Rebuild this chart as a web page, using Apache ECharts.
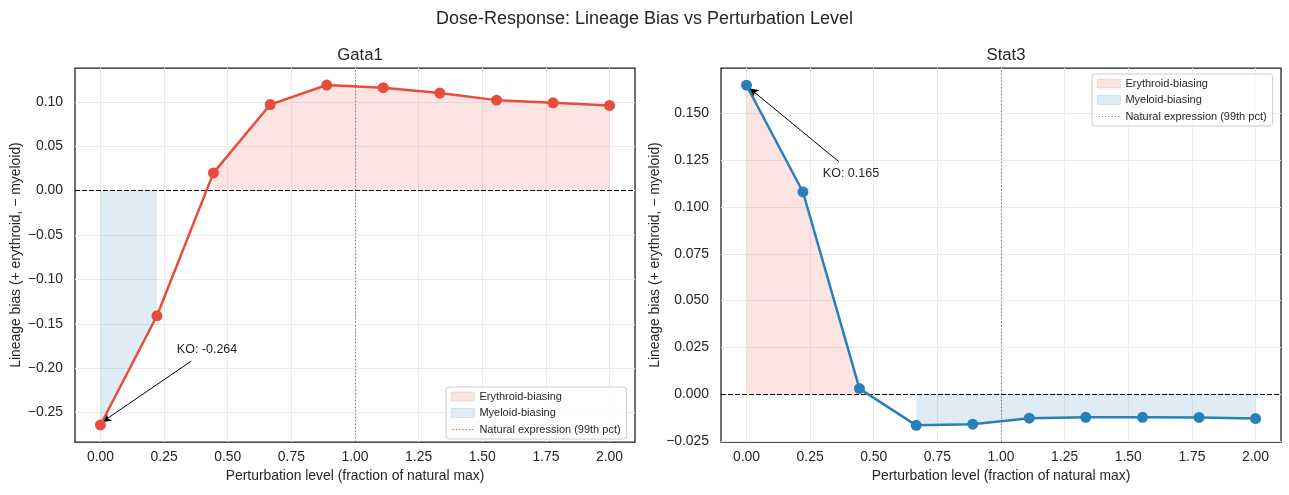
<!DOCTYPE html>
<html>
<head>
<meta charset="utf-8">
<script src="https://cdn.jsdelivr.net/npm/echarts@6/dist/echarts.min.js"></script>
<style>
  html, body { margin: 0; padding: 0; background: #fff; }
  #chart { width: 1289px; height: 495px; }
</style>
</head>
<body>
<div id="chart"></div>
<script>
// perturbation level (fraction of natural max)
var levels = [0, 0.222, 0.444, 0.667, 0.889, 1.111, 1.333, 1.556, 1.778, 2.0];
// lineage bias (+ erythroid, - myeloid)
var gata1Bias = [-0.264, -0.141, 0.020, 0.097, 0.119, 0.116, 0.110, 0.102, 0.099, 0.096];
var stat3Bias = [0.165, 0.108, 0.003, -0.0166, -0.0160, -0.0128, -0.0123, -0.0123, -0.0124, -0.0130];
var naturalLevel = 1.0;

var xTicks = [0, 0.25, 0.5, 0.75, 1.0, 1.25, 1.5, 1.75, 2.0];
var gata1YTicks = [-0.25, -0.2, -0.15, -0.1, -0.05, 0, 0.05, 0.1];
var stat3YTicks = [-0.025, 0, 0.025, 0.05, 0.075, 0.1, 0.125, 0.15];

var FONT = '"Liberation Sans", Arial, sans-serif';
var TXT = '#262626';
var RED = '#e74c3c', BLUE = '#2980b9';
var RED_FILL = 'rgba(231,76,60,0.15)', BLUE_FILL = 'rgba(41,128,185,0.15)';
var LEGEND_NAMES = ['Erythroid-biasing', 'Myeloid-biasing', 'Natural expression (99th pct)'];
// dotted legend key; the two bare moves keep the box 23x9 so the dots stay thin
var DOTTED_ICON = 'path://M0,0M23,9M1,4h1.3v1.1h-1.3zM4.3,4h1.3v1.1h-1.3zM7.6,4h1.3v1.1h-1.3zM10.9,4h1.3v1.1h-1.3zM14.2,4h1.3v1.1h-1.3zM17.5,4h1.3v1.1h-1.3zM20.8,4h1.3v1.1h-1.3z';

function fmt(digits) {
  return function (v) { return v.toFixed(digits).replace('-', '\u2212'); };
}

// fill_between(where=...) runs: keep points matching the sign, blank the rest
function fillData(ys, positive) {
  return ys.map(function (y, i) {
    var keep = positive ? y > 0 : y < 0;
    return [levels[i], keep ? y : '-'];
  });
}

function xAxis(idx) {
  return {
    type: 'value', gridIndex: idx, min: -0.1, max: 2.1,
    name: 'Perturbation level (fraction of natural max)',
    nameLocation: 'middle', nameGap: 27,
    nameTextStyle: { fontFamily: FONT, fontSize: 13.9, color: TXT },
    axisLine: { show: false },
    axisTick: { show: false, customValues: xTicks },
    axisLabel: { customValues: xTicks, formatter: fmt(2), fontFamily: FONT, fontSize: 13.9, color: TXT, margin: 8 },
    splitLine: { show: true, lineStyle: { color: '#ebebeb', width: 1 } }
  };
}

function yAxis(idx, min, max, ticks, digits, gap) {
  return {
    type: 'value', gridIndex: idx, min: min, max: max,
    name: 'Lineage bias (+ erythroid, \u2212 myeloid)',
    nameLocation: 'middle', nameGap: gap,
    nameTextStyle: { fontFamily: FONT, fontSize: 13.9, color: TXT },
    axisLine: { show: false },
    axisTick: { show: false, customValues: ticks },
    axisLabel: { customValues: ticks, formatter: fmt(digits), fontFamily: FONT, fontSize: 13.9, color: TXT, margin: 12 },
    splitLine: { show: true, lineStyle: { color: '#ebebeb', width: 1 } }
  };
}

function panelSeries(idx, name, ys, color, arrowFrom, arrowTo, textAt) {
  return [
    {
      name: 'Erythroid-biasing', type: 'line', xAxisIndex: idx, yAxisIndex: idx,
      data: fillData(ys, true), symbol: 'none', silent: true,
      lineStyle: { width: 0.8, color: RED_FILL }, itemStyle: { color: RED_FILL },
      areaStyle: { color: RED_FILL, opacity: 1, origin: 0 }, z: 1
    },
    {
      name: 'Myeloid-biasing', type: 'line', xAxisIndex: idx, yAxisIndex: idx,
      data: fillData(ys, false), symbol: 'none', silent: true,
      lineStyle: { width: 0.8, color: BLUE_FILL }, itemStyle: { color: BLUE_FILL },
      areaStyle: { color: BLUE_FILL, opacity: 1, origin: 0 }, z: 1
    },
    {
      name: 'Natural expression (99th pct)', type: 'line', xAxisIndex: idx, yAxisIndex: idx,
      data: [], symbol: 'none', silent: true,
      lineStyle: { type: 'dotted', color: '#808080', width: 1 }, itemStyle: { color: '#808080' },
      markLine: {
        silent: true, symbol: 'none', label: { show: false },
        lineStyle: { type: [1.4, 2], color: '#7a7a7a', width: 1.1 },
        data: [{ xAxis: naturalLevel }]
      }, z: 2
    },
    {
      name: name, type: 'line', xAxisIndex: idx, yAxisIndex: idx,
      data: levels.map(function (x, i) { return [x, ys[i]]; }),
      symbol: 'circle', symbolSize: 11, showSymbol: true,
      lineStyle: { color: color, width: 2.5 }, itemStyle: { color: color },
      markLine: {
        silent: true, animation: false, label: { show: false }, symbol: 'none',
        data: [
          { yAxis: 0, lineStyle: { type: [5, 2], color: '#000', width: 1.2 } },
          [
            { coord: arrowFrom, lineStyle: { type: 'solid', color: '#000', width: 1 } },
            { coord: arrowTo, symbol: 'arrow', symbolSize: [7, 9] }
          ]
        ]
      },
      markPoint: {
        silent: true, symbol: 'circle', symbolSize: 0,
        data: [{
          coord: textAt,
          label: {
            show: true, position: 'right', distance: 0,
            formatter: 'KO: ' + ys[0].toFixed(3),
            fontFamily: FONT, fontSize: 12.5, color: TXT
          }
        }]
      },
      z: 5
    }
  ];
}

function legend(pos) {
  return {
    orient: 'vertical', left: pos.left, top: pos.top,
    itemWidth: 23, itemHeight: 9, itemGap: 5.5,
    padding: [4, 6, 4, 5],
    backgroundColor: 'rgba(255,255,255,0.8)', borderColor: '#cccccc', borderWidth: 1, borderRadius: 3,
    selectedMode: false,
    textStyle: { fontFamily: FONT, fontSize: 11, color: TXT },
    data: [
      { name: LEGEND_NAMES[0], icon: 'rect', itemStyle: { color: RED_FILL, borderColor: 'rgba(231,76,60,0.2)', borderWidth: 0.8 } },
      { name: LEGEND_NAMES[1], icon: 'rect', itemStyle: { color: BLUE_FILL, borderColor: 'rgba(41,128,185,0.2)', borderWidth: 0.8 } },
      { name: LEGEND_NAMES[2], icon: DOTTED_ICON, itemStyle: { color: '#808080', borderWidth: 0 } }
    ]
  };
}

var chart = echarts.init(document.getElementById('chart'), null, { renderer: 'canvas' });

var option = {
  animation: false,
  backgroundColor: '#fff',
  title: [
    { text: 'Dose-Response: Lineage Bias vs Perturbation Level', left: 'center', top: 5,
      textStyle: { fontFamily: FONT, fontSize: 18, fontWeight: 'normal', color: TXT } },
    { text: 'Gata1', left: 355, textAlign: 'center', top: 42,
      textStyle: { fontFamily: FONT, fontSize: 16.7, fontWeight: 'normal', color: TXT } },
    { text: 'Stat3', left: 1001, textAlign: 'center', top: 42,
      textStyle: { fontFamily: FONT, fontSize: 16.7, fontWeight: 'normal', color: TXT } }
  ],
  grid: [
    { left: 75, top: 68, width: 560, height: 374, show: true, borderColor: '#1a1a1a', borderWidth: 1.25, backgroundColor: 'transparent' },
    { left: 721, top: 68, width: 560, height: 374, show: true, borderColor: '#1a1a1a', borderWidth: 1.25, backgroundColor: 'transparent' }
  ],
  xAxis: [xAxis(0), xAxis(1)],
  yAxis: [
    yAxis(0, -0.2832, 0.1382, gata1YTicks, 2, 52),
    yAxis(1, -0.0255, 0.1742, stat3YTicks, 3, 58)
  ],
  legend: [
    legend({ left: 446, top: 387 }),
    legend({ left: 1092, top: 74 })
  ],
  series: [].concat(
    panelSeries(0, 'Gata1', gata1Bias, RED, [0.357, -0.192], [0.007, -0.2606], [0.3, -0.179]),
    panelSeries(1, 'Stat3', stat3Bias, BLUE, [0.363, 0.1242], [0.012, 0.1634], [0.3, 0.118])
  )
};

chart.setOption(option);
</script>
</body>
</html>
